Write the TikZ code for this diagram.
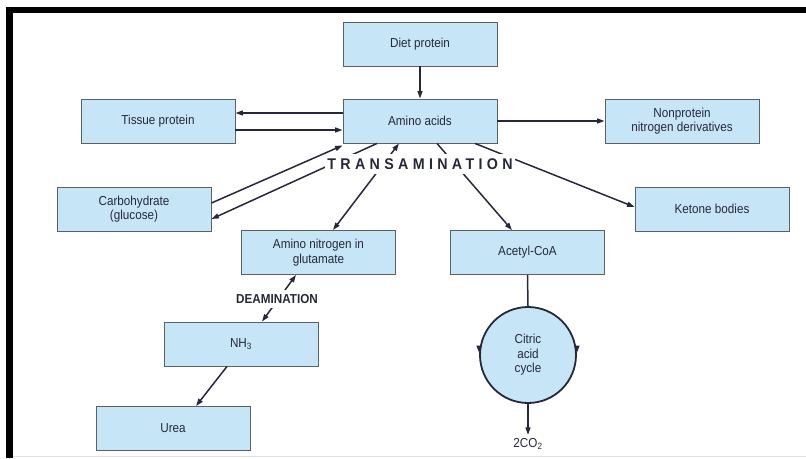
\documentclass[tikz,border=0pt]{standalone}
\usepackage{fontspec}
\setmainfont{Liberation Sans}[FakeStretch=0.9]
\newfontfamily\spacedfont{Liberation Sans}[FakeStretch=0.92, LetterSpace=28]
\usetikzlibrary{arrows.meta, positioning, calc}
\definecolor{boxfill}{HTML}{C6E6F7}
\definecolor{boxline}{HTML}{56626C}
\definecolor{txt}{HTML}{26283A}

\begin{document}
\begin{tikzpicture}[
    x=1pt, y=-1pt,
    every node/.style={font=\fontsize{13}{14.5}\selectfont, text=txt},
    box/.style={draw=boxline, fill=boxfill, line width=0.9pt, minimum width=154pt,
                minimum height=44pt, inner sep=0pt, align=center},
    cyc/.style={circle, draw=txt, fill=boxfill, line width=1.8pt, minimum size=96pt,
                inner sep=0pt, align=center},
    arr/.style={-{Triangle[length=7.5pt, width=5pt]}, line width=1.5pt, draw=txt},
    biarr/.style={{Triangle[length=7.5pt, width=5pt]}-{Triangle[length=7.5pt, width=5pt]},
                line width=1.5pt, draw=txt},
    gap/.style={fill=white, inner xsep=2pt, inner ysep=4.5pt, font=\bfseries\fontsize{13}{14}\selectfont}
]
    \useasboundingbox (0,0) rectangle (806,458);
    % frame
    \fill[black] (6,7) rectangle (806,13);
    \fill[black] (6,7) rectangle (13,458);
    \draw[black!12, line width=1pt] (13,456.5) -- (806,456.5);

    \node[box] (diet)    at (420, 44)    {Diet protein};
    \node[box] (amino)   at (420, 121)   {Amino acids};
    \node[box] (tissue)  at (158, 121)   {Tissue protein};
    \node[box] (nonprot) at (682, 121)   {Nonprotein\\nitrogen derivatives};
    \node[box] (carb)    at (134, 209)   {Carbohydrate\\(glucose)};
    \node[box] (ketone)  at (712, 209)   {Ketone bodies};
    \node[box] (glut)    at (318.5, 252.5) {Amino nitrogen in\\glutamate};
    \node[box] (acetyl)  at (527.5, 252.5) {Acetyl-CoA};
    \node[box] (nh3)     at (241, 344)   {NH\textsubscript{3}};
    \node[box] (urea)    at (173, 428.5) {Urea};
    \node[cyc] (citric)  at (528, 355)   {Citric\\acid\\cycle};
    \node (co2) at (528, 444) {2CO\textsubscript{2}};

    \draw[arr] (diet) -- (amino);
    \draw[arr] ([yshift=8pt]amino.west) -- ([yshift=8pt]tissue.east);
    \draw[arr] ([yshift=-9pt]tissue.east) -- ([yshift=-9pt]amino.west);
    \draw[arr] (amino) -- (nonprot);
    \draw[arr] ([yshift=6pt]carb.east) -- ([yshift=-2pt]amino.south west);
    \draw[arr] ([xshift=-43pt]amino.south) -- ([yshift=-10pt]carb.east);
    \draw[biarr] ([xshift=-21pt]amino.south) -- ([xshift=14.5pt]glut.north);
    \draw[arr] ([xshift=17pt]amino.south) -- ([xshift=-15.5pt]acetyl.north);
    \draw[arr] ([xshift=55pt]amino.south) -- ([yshift=2pt]ketone.west);
    \draw[biarr] ([xshift=-22.5pt]glut.south) -- ([xshift=21pt]nh3.north);
    \draw[arr] ([xshift=-14pt]nh3.south) -- ([xshift=23pt]urea.north);

    % citric acid cycle
    \draw[line width=1.5pt, draw=txt] (acetyl.south) -- (citric.north);
    \draw[arr] ([yshift=7pt]citric.west) -- ([yshift=2pt]citric.west);
    \draw[arr] ([yshift=7pt]citric.east) -- ([yshift=2pt]citric.east);
    \draw[arr] (citric.south) -- (co2.north);

    \node[gap] (transam) at (420, 164) {\spacedfont\bfseries\fontsize{15.5}{16}\selectfont TRANSAMINATION};
    \node[gap] (deamin)  at (277, 299) {DEAMINATION};
\end{tikzpicture}
\end{document}
